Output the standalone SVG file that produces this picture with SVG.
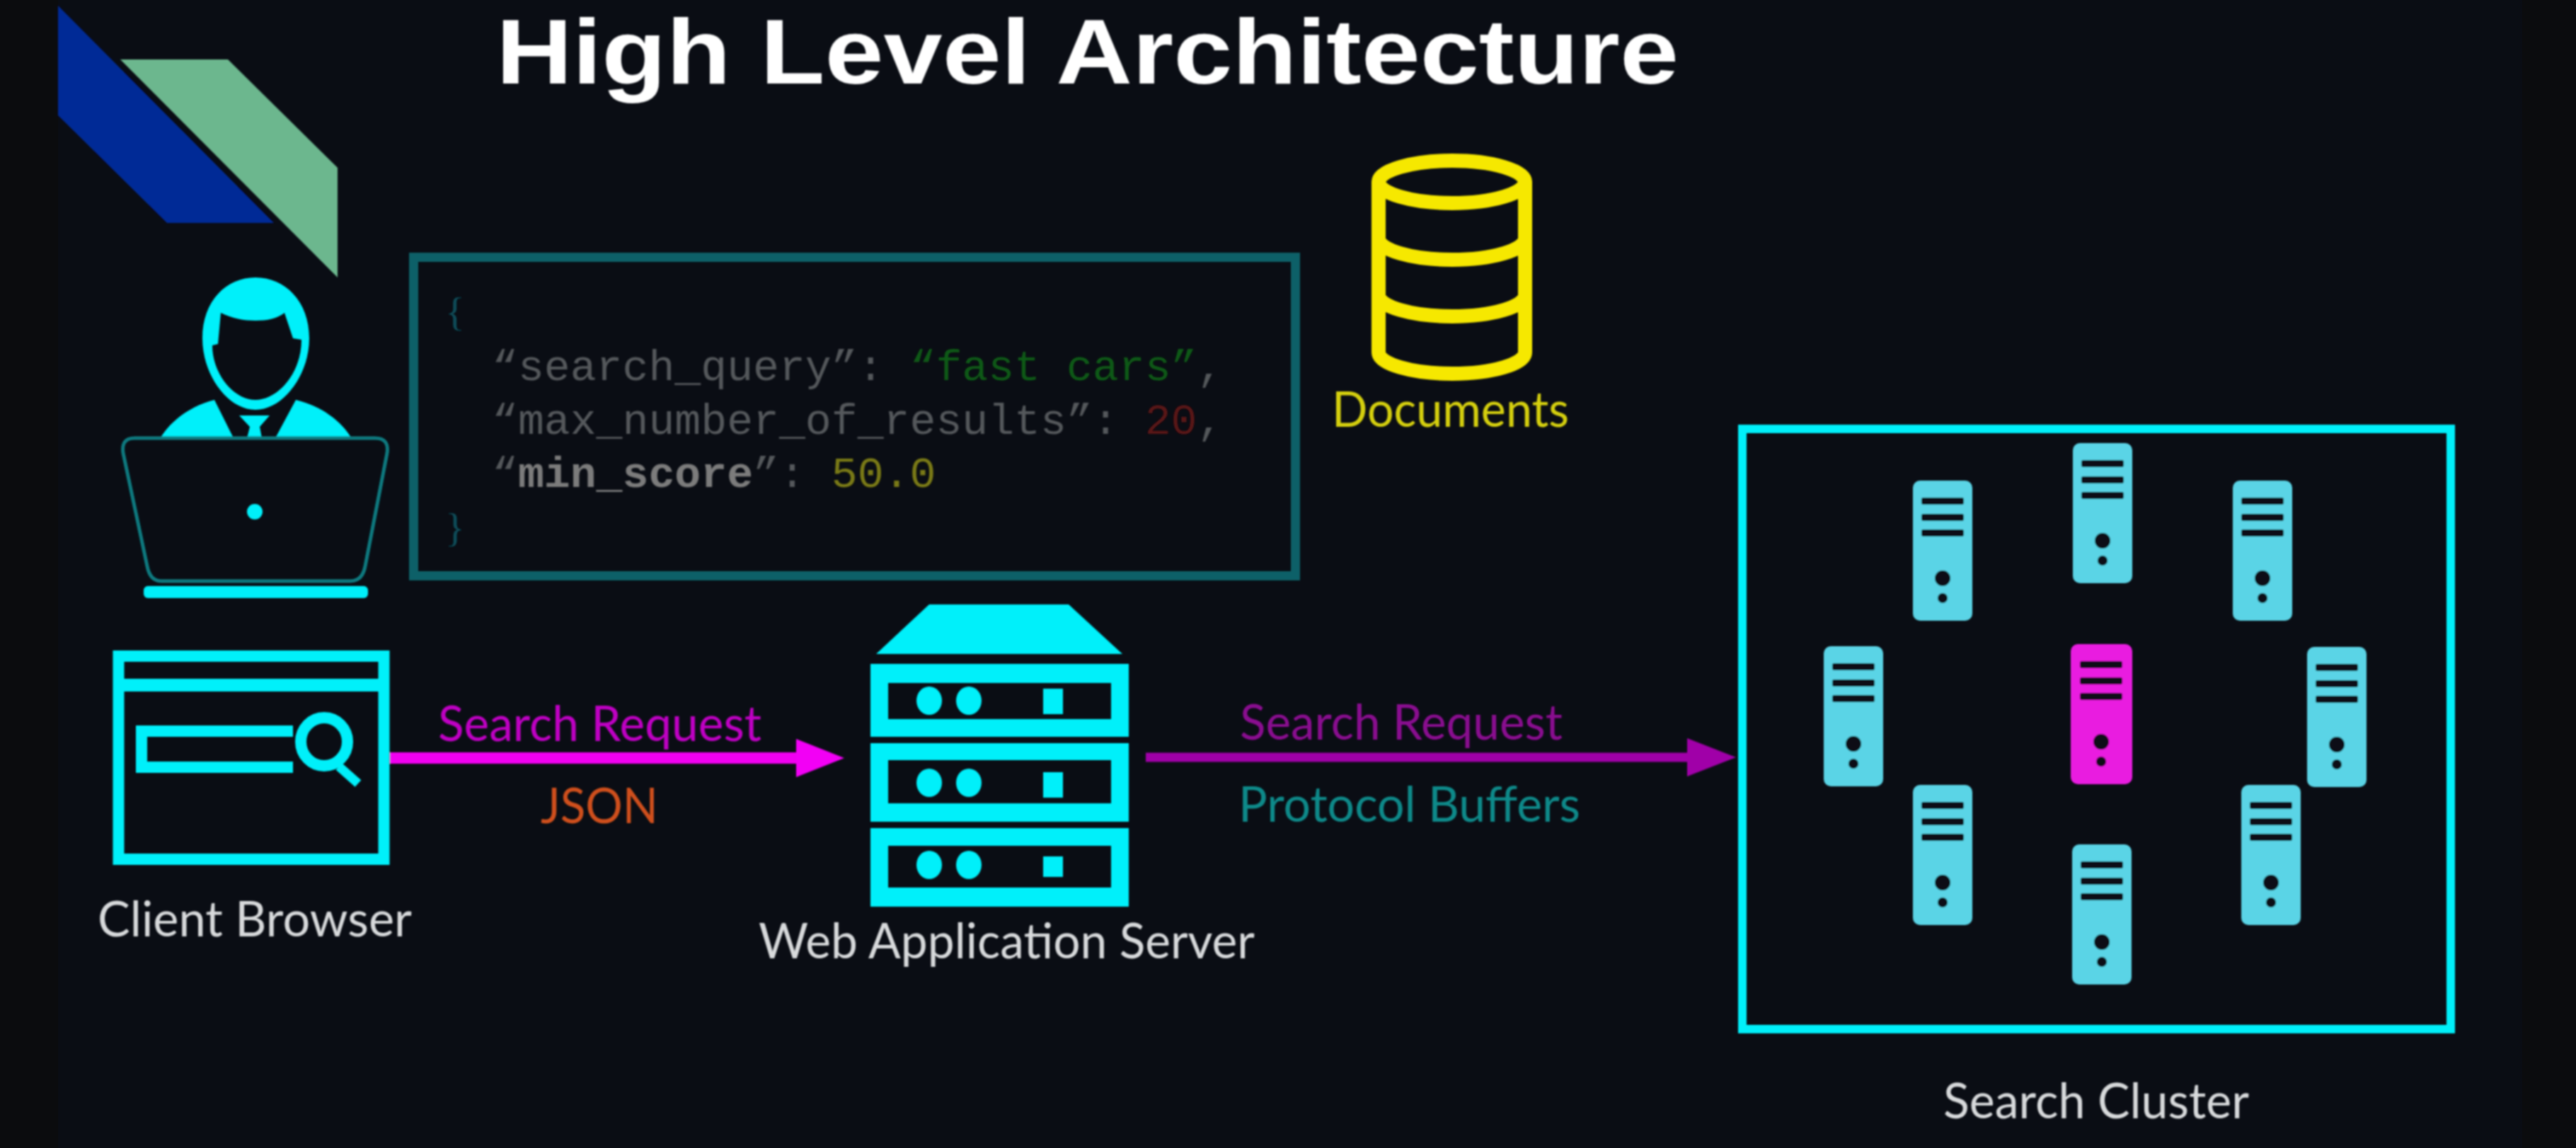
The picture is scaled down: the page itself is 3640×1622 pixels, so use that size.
<svg xmlns="http://www.w3.org/2000/svg" xmlns:xlink="http://www.w3.org/1999/xlink" width="3640" height="1622" viewBox="0 0 3640 1622">
<style>
.cy{fill:#00f0fa}
.lbl{font-family:Lato,"Open Sans",sans-serif;font-size:69px}
.wh{fill:#d8dadc}
.code{font-family:"Liberation Mono",monospace;font-size:61.5px}
.brace{font-family:"Liberation Serif",serif;font-size:58px;fill:#0c4e5a}
.g{fill:#55585c}
.bar{fill:#0a0d14}
.tw{fill:#5ad4e6}
.twm{fill:#e91fe0}
</style>
<defs>
<filter id="soft" x="-2%" y="-2%" width="104%" height="104%"><feGaussianBlur stdDeviation="1.3"/></filter>
<marker id="hm" markerUnits="userSpaceOnUse" markerWidth="70" markerHeight="54" refX="0" refY="27" orient="auto"><path d="M0 0L68 27L0 54Z" fill="#f200f5"/></marker>
<marker id="hp" markerUnits="userSpaceOnUse" markerWidth="70" markerHeight="54" refX="0" refY="27" orient="auto"><path d="M0 0L69 27L0 54Z" fill="#a000a8"/></marker>
<g id="tower-art">
<rect x="12" y="24" width="60" height="10" rx="3" class="bar"/>
<rect x="12" y="47" width="60" height="10" rx="3" class="bar"/>
<rect x="12" y="69" width="60" height="10" rx="3" class="bar"/>
<circle cx="42" cy="138" r="11" class="bar"/>
<circle cx="42" cy="166" r="7" class="bar"/>
</g>
</defs>
<rect width="3640" height="1622" fill="#0a0d14"/>
<rect width="82" height="1622" fill="#0b0c0e"/>
<rect x="3564" width="76" height="1622" fill="#0b0c0e"/>
<g filter="url(#soft)">
<g id="logo">
<path d="M82 8V163L236 315H387Z" fill="#002a96"/>
<path d="M170 84H322L477 237V392Z" fill="#6cb78e"/>
</g>
<g id="title">
<text x="701" y="117.500" font-family="'Liberation Sans',sans-serif" font-weight="700" font-size="129.500" fill="#ffffff" textLength="1671" lengthAdjust="spacingAndGlyphs">High Level Architecture</text>
</g>
<g id="user">
<path class="cy" fill-rule="evenodd" d="M286 478C286 425 320 392 361 392C402 392 437 425 437 478C437 530 400 579 361 579C322 579 286 530 286 478ZM312 442C328 450 345 453 361 453C378 453 392 450 402 442L414 478L426 480C426 528 392 565 361 565C330 565 300 528 300 488L308 486Z"/>
<path class="cy" d="M226 620C240 595 270 573 303 565L330 619Z"/>
<path class="cy" d="M497 620C483 595 453 573 418 565L389 619Z"/>
<path class="cy" d="M338 587H381L367 603L370 619H349L353 603Z"/>
<path d="M190 619H530Q550 619 547 640L516 800Q512 821 495 821H228Q212 821 208 800L174 640Q171 619 190 619Z" fill="none" stroke="#0e7a80" stroke-width="5"/>
<circle cx="360" cy="723" r="11" class="cy"/>
<rect x="203" y="828" width="317" height="17" rx="6" class="cy"/>
</g>
<g id="request-json">
<rect x="584.500" y="363.500" width="1246" height="450" fill="none" stroke="#0e6068" stroke-width="13"/>
<text class="brace" x="629" y="460">{</text>
<text class="code" x="695" y="537" xml:space="preserve"><tspan class="g">“search_query”: </tspan><tspan fill="#0f5a14">“fast cars”</tspan><tspan class="g">,</tspan></text>
<text class="code" x="695" y="613" xml:space="preserve"><tspan class="g">“max_number_of_results”: </tspan><tspan fill="#5a1214">20</tspan><tspan class="g">,</tspan></text>
<text class="code" x="695" y="688" xml:space="preserve"><tspan class="g">“</tspan><tspan fill="#7c7c7c" font-weight="700">min_score</tspan><tspan class="g">”: </tspan><tspan fill="#7a7a12">50.0</tspan></text>
<text class="brace" x="629" y="765">}</text>
</g>
<g id="documents">
<path d="M1948 257V498C1948 514 1995 528 2052 528C2109 528 2155 514 2155 498V257M1948 257C1948 241 1995 227 2052 227C2109 227 2155 241 2155 257C2155 273 2109 287 2052 287C1995 287 1948 273 1948 257ZM1948 337C1948 353 1995 367 2052 367C2109 367 2155 353 2155 337M1948 417C1948 433 1995 447 2052 447C2109 447 2155 433 2155 417" fill="none" stroke="#f6e800" stroke-width="20"/>
<text class="lbl" x="1882" y="603" fill="#d6d010" textLength="335" lengthAdjust="spacingAndGlyphs">Documents</text>
</g>
<g id="client-browser">
<rect x="167.500" y="927" width="375" height="287" fill="none" stroke="#00f0fa" stroke-width="16"/>
<rect x="160" y="959" width="390" height="18" class="cy"/>
<path d="M414 1033H200V1084H414" fill="none" stroke="#00f0fa" stroke-width="16"/>
<ellipse cx="458" cy="1048" rx="33" ry="34" fill="none" stroke="#00f0fa" stroke-width="16"/>
<path d="M479 1083L506 1107" fill="none" stroke="#00f0fa" stroke-width="13"/>
<text class="lbl wh" x="138" y="1323" textLength="444" lengthAdjust="spacingAndGlyphs">Client Browser</text>
</g>
<g id="web-server">
<path class="cy" d="M1313 854H1510L1586 924H1238Z"/>
<g>
<path class="cy" fill-rule="evenodd" d="M1230 938H1595V1041H1230ZM1255 965V1016H1570V965Z"/>
<path class="cy" fill-rule="evenodd" d="M1230 1050H1595V1161H1230ZM1255 1074V1135H1570V1074Z"/>
<path class="cy" fill-rule="evenodd" d="M1230 1170H1595V1281H1230ZM1255 1195V1254H1570V1195Z"/>
</g>
<ellipse cx="1313" cy="990" rx="18" ry="20" class="cy"/><ellipse cx="1369" cy="990" rx="18" ry="20" class="cy"/><rect x="1474" y="973" width="28" height="36" class="cy"/>
<ellipse cx="1313" cy="1106" rx="18" ry="20" class="cy"/><ellipse cx="1369" cy="1106" rx="18" ry="20" class="cy"/><rect x="1474" y="1091" width="28" height="36" class="cy"/>
<ellipse cx="1313" cy="1222" rx="18" ry="20" class="cy"/><ellipse cx="1369" cy="1222" rx="18" ry="20" class="cy"/><rect x="1474" y="1210" width="28" height="29" class="cy"/>
<text class="lbl wh" x="1072" y="1354" textLength="701" lengthAdjust="spacingAndGlyphs">Web Application Server</text>
</g>
<g id="search-cluster">
<rect x="2462" y="606" width="1001" height="848" fill="none" stroke="#00f0fa" stroke-width="12"/>
<g id="node-a"><rect x="2703" y="679" width="84" height="198" rx="10" class="tw"/><use xlink:href="#tower-art" href="#tower-art" x="2703" y="679"/></g>
<g id="node-b"><rect x="2929" y="626" width="84" height="198" rx="10" class="tw"/><use xlink:href="#tower-art" href="#tower-art" x="2929" y="626"/></g>
<g id="node-c"><rect x="3155" y="679" width="84" height="198" rx="10" class="tw"/><use xlink:href="#tower-art" href="#tower-art" x="3155" y="679"/></g>
<g id="node-d"><rect x="2577" y="913" width="84" height="198" rx="10" class="tw"/><use xlink:href="#tower-art" href="#tower-art" x="2577" y="913"/></g>
<g id="node-e"><rect x="2926" y="910" width="87" height="198" rx="10" class="twm"/><use xlink:href="#tower-art" href="#tower-art" x="2927" y="910"/></g>
<g id="node-f"><rect x="3260" y="914" width="84" height="198" rx="10" class="tw"/><use xlink:href="#tower-art" href="#tower-art" x="3260" y="914"/></g>
<g id="node-g"><rect x="2703" y="1109" width="84" height="198" rx="10" class="tw"/><use xlink:href="#tower-art" href="#tower-art" x="2703" y="1109"/></g>
<g id="node-h"><rect x="3167" y="1109" width="84" height="198" rx="10" class="tw"/><use xlink:href="#tower-art" href="#tower-art" x="3167" y="1109"/></g>
<g id="node-i"><rect x="2928" y="1193" width="84" height="198" rx="10" class="tw"/><use xlink:href="#tower-art" href="#tower-art" x="2928" y="1193"/></g>
<text class="lbl wh" x="2746" y="1580" textLength="432" lengthAdjust="spacingAndGlyphs">Search Cluster</text>
</g>
<g id="connectors">
<line x1="551" y1="1071" x2="1125" y2="1071" stroke="#f000f0" stroke-width="16" marker-end="url(#hm)"/>
<line x1="1619" y1="1070" x2="2384" y2="1070" stroke="#a000a8" stroke-width="13" marker-end="url(#hp)"/>
<text class="lbl" x="619" y="1047" fill="#c000c4" textLength="457" lengthAdjust="spacingAndGlyphs">Search Request</text>
<text class="lbl" x="764" y="1163" fill="#d0501c" textLength="166" lengthAdjust="spacingAndGlyphs">JSON</text>
<text class="lbl" x="1752" y="1045" fill="#8a0a90" textLength="456" lengthAdjust="spacingAndGlyphs">Search Request</text>
<text class="lbl" x="1750" y="1161" fill="#0f8a8a" textLength="483" lengthAdjust="spacingAndGlyphs">Protocol Buffers</text>
</g>
</g>
</svg>
